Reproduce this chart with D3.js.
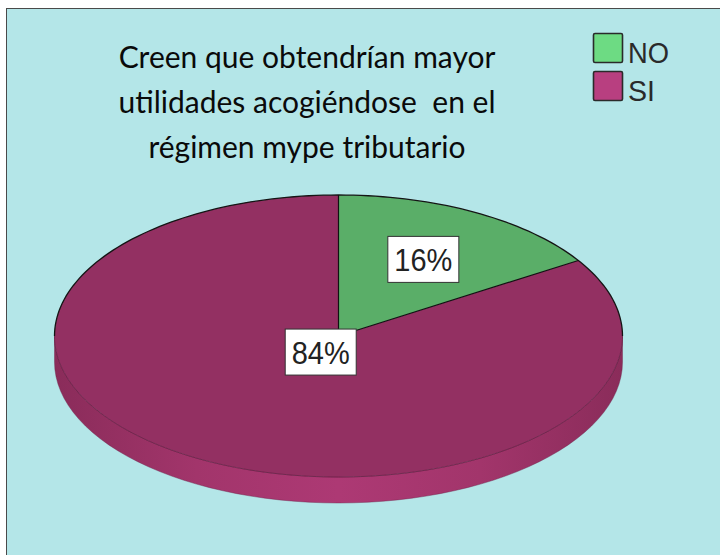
<!DOCTYPE html>
<html>
<head>
<meta charset="utf-8">
<script src="https://cdn.jsdelivr.net/npm/d3@7"></script>
<style>
  body { margin: 0; background: #fff; }
  svg { display: block; }
</style>
</head>
<body>
<div id="chart"></div>
<script>
// chart data
var categories = ["NO", "SI"];
var percents = [16, 84];
var titleLines = ["Creen que obtendrían mayor", "utilidades acogiéndose  en el", "régimen mype tributario"];

// colours (top face, legend swatch)
var topColors = ["#5aae68", "#933062"];
var legendColors = ["#6ddb83", "#b83f80"];

var svgWidth = 720;
var svgHeight = 555;

var svg = d3.select("#chart")
  .append("svg")
  .attr("width", svgWidth)
  .attr("height", svgHeight);

// panel background
svg.append("rect")
  .attr("x", 6.5)
  .attr("y", 8.5)
  .attr("width", 740)
  .attr("height", 600)
  .attr("fill", "#b4e6e8")
  .attr("stroke", "#4a4a4a")
  .attr("stroke-width", 1);

// title
var title = svg.append("text")
  .attr("text-anchor", "middle")
  .attr("font-family", "Lato, 'Open Sans', sans-serif")
  .attr("font-size", 30)
  .attr("fill", "#0a0a0a")
  .style("white-space", "pre");

title.selectAll("tspan")
  .data(titleLines)
  .enter()
  .append("tspan")
  .attr("x", 307)
  .attr("y", (d, i) => 68 + i * 45)
  .text(d => d);

// legend
var legend = svg.append("g").attr("transform", "translate(593, 33)");
var legendItems = legend.selectAll("g")
  .data(categories)
  .enter()
  .append("g")
  .attr("transform", (d, i) => `translate(0, ${i * 38})`);

legendItems.append("rect")
  .attr("x", 0.5)
  .attr("y", 0.5)
  .attr("width", 29)
  .attr("height", 29)
  .attr("rx", 1.5)
  .attr("fill", (d, i) => legendColors[i])
  .attr("stroke", "#2a2a2a")
  .attr("stroke-width", 1.6);

legendItems.append("text")
  .attr("x", 35)
  .attr("y", 30)
  .attr("font-family", "'Liberation Sans', Arial, sans-serif")
  .attr("font-size", 30)
  .attr("fill", "#2a2a2a")
  .attr("textLength", (d, i) => i === 0 ? 41 : 27)
  .attr("lengthAdjust", "spacingAndGlyphs")
  .text(d => d);

// 3d pie geometry
var cx = 338.5, cy = 336, rx = 284, ry = 141, depth = 26;

var pie = d3.pie().sort(null).startAngle(0).endAngle(2 * Math.PI);
var arcs = pie(percents);

function pt(a, dy) {
  return [rx * Math.sin(a), -ry * Math.cos(a) + (dy || 0)];
}

// side gradient
var defs = svg.append("defs");
var grad = defs.append("linearGradient")
  .attr("id", "sideGrad")
  .attr("x1", "0%").attr("x2", "100%")
  .attr("y1", "0%").attr("y2", "0%");
grad.append("stop").attr("offset", "0%").attr("stop-color", "#8a2c5a");
grad.append("stop").attr("offset", "25%").attr("stop-color", "#a2356b");
grad.append("stop").attr("offset", "50%").attr("stop-color", "#ad3974");
grad.append("stop").attr("offset", "75%").attr("stop-color", "#a2356b");
grad.append("stop").attr("offset", "100%").attr("stop-color", "#8a2c5a");

var pieGroup = svg.append("g").attr("transform", `translate(${cx}, ${cy})`);

var line = d3.line();

// side walls (front half only, from 90deg to 270deg)
arcs.forEach(function(d, i) {
  var a0 = Math.max(d.startAngle, Math.PI / 2);
  var a1 = Math.min(d.endAngle, 3 * Math.PI / 2);
  if (a1 <= a0) return;
  var steps = d3.range(0, 61).map(k => a0 + (a1 - a0) * k / 60);
  var top = steps.map(a => pt(a, 0));
  var bottom = steps.slice().reverse().map(a => pt(a, depth));
  pieGroup.append("path")
    .attr("d", line(top.concat(bottom)) + "Z")
    .attr("fill", i === 1 ? "url(#sideGrad)" : d3.color(topColors[i]).brighter(0.3))
    .attr("stroke", "#6e2248")
    .attr("stroke-width", 0.6)
    .attr("stroke-opacity", 0.7);
});

// top face
var arcGen = d3.arc().innerRadius(0).outerRadius(rx);
var topFace = pieGroup.append("g").attr("transform", `scale(1, ${ry / rx})`);

topFace.selectAll("path")
  .data(arcs)
  .enter()
  .append("path")
  .attr("d", arcGen)
  .attr("fill", (d, i) => topColors[i])
  .attr("stroke", "none");

// outline of top face (back edge darker)
var backEdge = d3.range(0, 121).map(k => pt(-Math.PI / 2 + Math.PI * k / 120, 0));
pieGroup.append("path")
  .attr("d", line(backEdge))
  .attr("fill", "none")
  .attr("stroke", "#151515")
  .attr("stroke-width", 1.3);

var frontEdge = d3.range(0, 121).map(k => pt(Math.PI / 2 + Math.PI * k / 120, 0));
pieGroup.append("path")
  .attr("d", line(frontEdge))
  .attr("fill", "none")
  .attr("stroke", "#6a2146")
  .attr("stroke-width", 0.8);

// slice dividers
arcs.forEach(function(d) {
  var p = pt(d.startAngle, 0);
  pieGroup.append("line")
    .attr("x1", 0).attr("y1", 0)
    .attr("x2", p[0]).attr("y2", p[1])
    .attr("stroke", "#111")
    .attr("stroke-width", 1.2);
});

// labels
var labelRadius = [0.62, 0.13];
arcs.forEach(function(d, i) {
  var mid = (d.startAngle + d.endAngle) / 2;
  var lx = rx * labelRadius[i] * Math.sin(mid);
  var ly = -ry * labelRadius[i] * Math.cos(mid);
  var g = pieGroup.append("g").attr("transform", `translate(${lx}, ${ly})`);
  g.append("rect")
    .attr("x", -35.5)
    .attr("y", -23)
    .attr("width", 71)
    .attr("height", 46)
    .attr("fill", "#fff")
    .attr("stroke", "#333")
    .attr("stroke-width", 1);
  g.append("text")
    .attr("text-anchor", "middle")
    .attr("y", 12)
    .attr("font-family", "'Liberation Sans', Arial, sans-serif")
    .attr("font-size", 32)
    .attr("fill", "#222")
    .attr("textLength", 58)
    .attr("lengthAdjust", "spacingAndGlyphs")
    .text(percents[i] + "%");
});
</script>
</body>
</html>
